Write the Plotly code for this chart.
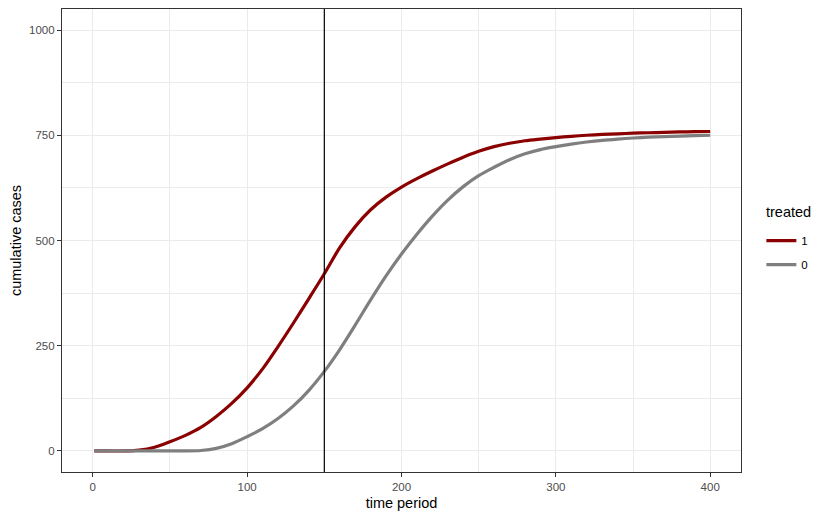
import plotly.graph_objects as go

# ---- data ----
time_period = [1, 10, 20, 30, 40, 50, 60, 70, 80, 90, 100, 110, 120, 130, 140, 150,
               160, 170, 180, 190, 200, 210, 220, 230, 240, 250, 260, 270, 280, 290,
               300, 310, 320, 330, 340, 350, 360, 370, 380, 390, 400]
treated_1 = [0, 0, 0, 2, 9, 22, 37, 56, 82, 113, 150, 195, 248, 304, 362, 421,
             483, 533, 573, 603, 627, 647, 665, 682, 698, 712, 723, 731, 737, 741,
             744.5, 747.5, 750, 752, 753.5, 755, 756, 757, 758, 758.5, 759]
treated_0 = [0, 0, 0, 0, 0, 0, 0, 1, 6, 17, 34, 53, 77, 107, 144, 189,
             241, 299, 359, 416, 468, 515, 558, 596, 628, 654, 674, 692, 706, 716,
             723, 729, 734, 738, 741, 743.5, 745.5, 747, 748, 749, 750]
treatment_start = 150
legend_title = "treated"
series_names = ["1", "0"]

RED = "#8B0000"
GREY = "#7F7F7F"
FONT = "Liberation Sans, Arial, sans-serif"

fig = go.Figure()
fig.add_trace(go.Scatter(x=time_period, y=treated_1, mode="lines", name=series_names[0],
                         legendgroup="g1",
                         line=dict(color=RED, width=3.2, shape="spline", smoothing=0.9)))
fig.add_trace(go.Scatter(x=time_period, y=treated_0, mode="lines", name=series_names[1],
                         legendgroup="g0",
                         line=dict(color=GREY, width=3.2, shape="spline", smoothing=0.9)))

fig.add_shape(type="line", xref="x", yref="paper", x0=treatment_start, x1=treatment_start,
              y0=0, y1=1, line=dict(color="black", width=1.2), layer="above")

axis_common = dict(
    showline=True, mirror=True, linecolor="#333333", linewidth=1.1,
    showgrid=True, gridcolor="#EBEBEB", gridwidth=1.1,
    zeroline=False, ticks="outside", ticklen=4, tickwidth=1.1, tickcolor="#333333",
    tickfont=dict(family=FONT, size=11.5, color="#4D4D4D"),
)

fig.update_xaxes(**axis_common, range=[-19.95, 419.95], tick0=0, dtick=100,
                 minor=dict(dtick=50, showgrid=True, gridcolor="#EBEBEB", gridwidth=0.6, ticks=""),
                 title=dict(text="time period", font=dict(family=FONT, size=14.5, color="black"),
                            standoff=6))
fig.update_yaxes(**axis_common, range=[-50, 1050], tick0=0, dtick=250,
                 minor=dict(dtick=125, showgrid=True, gridcolor="#EBEBEB", gridwidth=0.6, ticks=""),
                 title=dict(text="cumulative cases", font=dict(family=FONT, size=14.5, color="black"),
                            standoff=8))

# legend title as a separate text so the spacing matches the reference
fig.add_annotation(text=legend_title, xref="paper", yref="paper", x=1.034, y=0.5616,
                   xanchor="left", yanchor="middle", showarrow=False,
                   font=dict(family=FONT, size=14.5, color="black"))

fig.update_layout(
    width=830, height=519,
    margin=dict(l=54, r=97, t=1, b=55, autoexpand=False),
    plot_bgcolor="white", paper_bgcolor="white",
    font=dict(family=FONT),
    legend=dict(
        font=dict(family=FONT, size=11.5, color="black"),
        x=1.03, xanchor="left", y=0.531, yanchor="top",
        itemwidth=30, tracegroupgap=5, bgcolor="rgba(0,0,0,0)",
    ),
    showlegend=True,
)

fig.write_html("out.html")
